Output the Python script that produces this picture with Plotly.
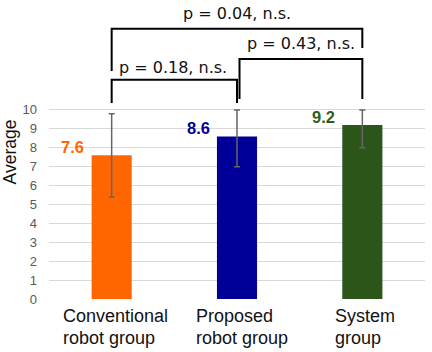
import plotly.graph_objects as go

categories = ["Conventional<br>robot group", "Proposed<br>robot group", "System<br>group"]
values = [7.6, 8.6, 9.2]
errors = [2.2, 1.6, 1.2]
bar_colors = ["#FF6600", "#000099", "#2B5519"]
label_colors = ["#FF6600", "#00009C", "#2E5E1E"]
y_ticks = [0, 1, 2, 3, 4, 5, 6, 7, 8, 9, 10]
comparisons = [(0, 1), (1, 2), (0, 2)]
p_labels = ["p = 0.18, n.s.", "p = 0.43, n.s.", "p = 0.04, n.s."]

AXIS_MAX = 10
x = list(range(len(values)))
err_plus = [min(v + e, AXIS_MAX) - v for v, e in zip(values, errors)]

fig = go.Figure()
fig.add_trace(go.Bar(
    x=x, y=values, width=0.32,
    marker=dict(color=bar_colors, line=dict(width=0)),
    error_y=dict(type="data", symmetric=False, array=err_plus, arrayminus=errors,
                 color="#666666", thickness=1.5, width=3),
    showlegend=False,
))

annotations = []
# value labels
for i, v in enumerate(values):
    annotations.append(dict(x=i - 0.31, y=v + 0.42, xref="x", yref="y", text="<b>%.1f</b>" % v,
                            showarrow=False, font=dict(family="Liberation Sans, Arial", size=16.5,
                                                        color=label_colors[i])))
# category labels (left aligned, one annotation per line)
left_shift = [-50, -42, -28]
for i, c in enumerate(categories):
    for j, line in enumerate(c.split("<br>")):
        annotations.append(dict(x=i, y=0, xref="x", yref="paper", yanchor="middle",
                                xanchor="left", text=line, showarrow=False, borderpad=0,
                                xshift=left_shift[i], yshift=-17 - 22 * j,
                                font=dict(family="Liberation Sans, Arial", size=18,
                                          color="#111111")))

# significance brackets
shapes = []
bracket_specs = [
    # (x0, x1, y_top, left_bottom, right_bottom, text_x, text_y)
    (0.0, 1.0, 11.59, 10.37, 10.37, 0.49, 12.27),
    (1.02, 2.0, 12.70, 10.58, 10.58, 1.51, 13.54),
    (0.0, 2.0, 14.29, 12.06, 13.28, 1.0, 15.08),
]
for (a, b), txt, spec in zip(comparisons, p_labels, bracket_specs):
    x0, x1, yt, lb, rb, tx, ty = spec
    path = "M %f,%f L %f,%f L %f,%f L %f,%f" % (x0, lb, x0, yt, x1, yt, x1, rb)
    shapes.append(dict(type="path", path=path, xref="x", yref="y",
                       line=dict(color="#000000", width=2)))
    annotations.append(dict(x=tx, y=ty, xref="x", yref="y", text=txt, showarrow=False,
                            font=dict(family="DejaVu Sans", size=16, color="#111111")))

fig.update_layout(
    width=432, height=352,
    margin=dict(l=49, r=7, t=5, b=53),
    paper_bgcolor="white", plot_bgcolor="white",
    xaxis=dict(range=[-0.5, 2.5], showticklabels=False, showgrid=False, zeroline=False,
               showline=False, ticks=""),
    yaxis=dict(range=[0, 15.55], tickvals=y_ticks, showgrid=True, gridcolor="#D9D9D9",
               gridwidth=1, zeroline=False, showline=False, ticks="", ticklabelstandoff=11,
               tickfont=dict(family="Liberation Sans, Arial", size=13, color="#595959"),
               title=dict(text="Average", font=dict(family="Liberation Sans, Arial", size=17.5,
                                                    color="#111111"), standoff=2)),
    shapes=shapes,
    annotations=annotations,
)
fig.write_html("out.html")
